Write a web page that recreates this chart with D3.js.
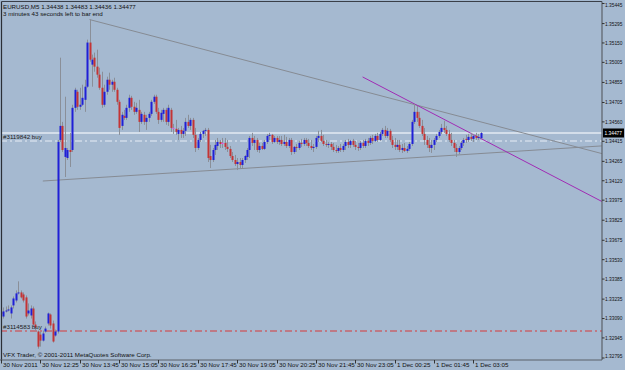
<!DOCTYPE html>
<html><head><meta charset="utf-8">
<script src="https://cdn.jsdelivr.net/npm/d3@7"></script>
<style>
html,body{margin:0;padding:0;background:#a5b9d0;}
svg{display:block;}
text{font-family:"Liberation Sans",Arial,sans-serif;}
</style></head><body>
<svg id="chart" width="625" height="370"></svg>
<script>
// ---------------- DATA ----------------
const symbolLabel = "EURUSD,M5";
const headerQuote = ["1.34438", "1.34483", "1.34436", "1.34477"];
const timerText = "3 minutes 43 seconds left to bar end";
const copyrightText = "VFX Trader, \u00a9 2001-2011 MetaQuotes Software Corp.";

const opens = [
1.33135,1.33105,1.33143,1.33150,1.33128,1.33188,1.33225,1.33278,1.33285,1.33270,
1.33248,1.33128,1.33113,1.33165,1.33045,1.32993,1.32970,1.32925,1.32993,1.33053,
1.33120,1.33053,1.32963,1.32993,1.34425,1.34530,1.34298,1.34290,1.34350,1.34350,
1.34665,1.34785,1.34673,1.34688,1.34725,1.34823,1.35153,1.34988,1.35040,1.34973,
1.34913,1.34815,1.34688,1.34785,1.34875,1.34838,1.34860,1.34800,1.34710,1.34530,
1.34605,1.34590,1.34665,1.34740,1.34673,1.34635,1.34650,1.34560,1.34613,1.34560,
1.34590,1.34620,1.34710,1.34748,1.34635,1.34575,1.34620,1.34650,1.34560,1.34650,
1.34515,1.34508,1.34470,1.34500,1.34470,1.34493,1.34560,1.34530,1.34575,1.34463,
1.34365,1.34425,1.34470,1.34493,1.34500,1.34305,1.34275,1.34350,1.34380,1.34410,
1.34395,1.34403,1.34373,1.34358,1.34305,1.34275,1.34245,1.34260,1.34238,1.34275,
1.34298,1.34350,1.34440,1.34403,1.34425,1.34350,1.34380,1.34358,1.34410,1.34455,
1.34463,1.34410,1.34440,1.34410,1.34425,1.34395,1.34410,1.34380,1.34425,1.34335,
1.34373,1.34365,1.34403,1.34395,1.34425,1.34403,1.34380,1.34365,1.34373,1.34440,
1.34455,1.34418,1.34395,1.34388,1.34395,1.34373,1.34350,1.34343,1.34365,1.34350,
1.34380,1.34410,1.34388,1.34418,1.34388,1.34373,1.34365,1.34403,1.34380,1.34418,
1.34403,1.34440,1.34418,1.34455,1.34425,1.34470,1.34500,1.34455,1.34493,1.34425,
1.34388,1.34373,1.34388,1.34350,1.34365,1.34343,1.34358,1.34395,1.34560,1.34635,
1.34590,1.34530,1.34470,1.34425,1.34388,1.34365,1.34388,1.34425,1.34455,1.34485,
1.34515,1.34500,1.34470,1.34425,1.34403,1.34365,1.34335,1.34365,1.34403,1.34433,
1.34425,1.34448,1.34433,1.34455,1.34440,1.34438];

const highs = [
1.33173,1.33173,1.33180,1.33188,1.33188,1.33255,1.33300,1.33368,1.33300,1.33285,
1.33263,1.33203,1.33188,1.33180,1.33068,1.33000,1.32993,1.33000,1.33030,1.33135,
1.33128,1.33075,1.33008,1.34425,1.35040,1.34560,1.34748,1.34365,1.34478,1.34688,
1.34815,1.34800,1.34815,1.34838,1.34875,1.35175,1.35325,1.35063,1.35078,1.35100,
1.34965,1.34935,1.34838,1.34898,1.34928,1.34875,1.34890,1.34815,1.34725,1.34635,
1.34650,1.34688,1.34763,1.34755,1.34710,1.34703,1.34725,1.34635,1.34635,1.34613,
1.34635,1.34725,1.34763,1.34763,1.34665,1.34650,1.34665,1.34665,1.34688,1.34665,
1.34545,1.34575,1.34515,1.34530,1.34515,1.34590,1.34613,1.34590,1.34590,1.34515,
1.34440,1.34485,1.34500,1.34515,1.34515,1.34388,1.34365,1.34425,1.34440,1.34425,
1.34440,1.34440,1.34425,1.34380,1.34335,1.34313,1.34290,1.34290,1.34290,1.34313,
1.34365,1.34455,1.34478,1.34455,1.34440,1.34403,1.34403,1.34425,1.34470,1.34478,
1.34470,1.34455,1.34455,1.34455,1.34455,1.34463,1.34448,1.34440,1.34440,1.34380,
1.34395,1.34418,1.34433,1.34440,1.34440,1.34433,1.34425,1.34395,1.34455,1.34493,
1.34500,1.34463,1.34425,1.34410,1.34410,1.34403,1.34388,1.34380,1.34395,1.34395,
1.34425,1.34433,1.34425,1.34433,1.34418,1.34403,1.34418,1.34425,1.34433,1.34440,
1.34455,1.34463,1.34470,1.34478,1.34485,1.34515,1.34530,1.34515,1.34508,1.34455,
1.34440,1.34425,1.34425,1.34395,1.34403,1.34380,1.34410,1.34575,1.34695,1.34680,
1.34635,1.34575,1.34515,1.34455,1.34440,1.34425,1.34440,1.34470,1.34500,1.34545,
1.34568,1.34530,1.34500,1.34478,1.34425,1.34395,1.34380,1.34418,1.34440,1.34463,
1.34470,1.34478,1.34470,1.34478,1.34470,1.34483];

const lows = [
1.33098,1.33090,1.33135,1.33143,1.33090,1.33165,1.33210,1.33270,1.33240,1.33210,
1.33090,1.33113,1.33090,1.33030,1.33000,1.32865,1.32880,1.32918,1.32985,1.33038,
1.33015,1.32910,1.32955,1.32978,1.34410,1.34335,1.34148,1.34275,1.34223,1.34335,
1.34635,1.34650,1.34650,1.34680,1.34635,1.34815,1.35010,1.34823,1.34935,1.34890,
1.34800,1.34665,1.34673,1.34763,1.34800,1.34785,1.34785,1.34688,1.34463,1.34500,
1.34575,1.34575,1.34635,1.34650,1.34613,1.34620,1.34485,1.34545,1.34538,1.34500,
1.34560,1.34605,1.34695,1.34620,1.34545,1.34560,1.34560,1.34538,1.34530,1.34485,
1.34470,1.34463,1.34425,1.34440,1.34440,1.34455,1.34515,1.34500,1.34440,1.34335,
1.34350,1.34410,1.34440,1.34455,1.34260,1.34215,1.34260,1.34313,1.34350,1.34365,
1.34365,1.34350,1.34335,1.34290,1.34260,1.34230,1.34200,1.34215,1.34215,1.34253,
1.34275,1.34290,1.34380,1.34350,1.34335,1.34328,1.34350,1.34350,1.34395,1.34425,
1.34395,1.34403,1.34395,1.34388,1.34380,1.34380,1.34365,1.34365,1.34313,1.34320,
1.34335,1.34350,1.34373,1.34380,1.34380,1.34365,1.34350,1.34335,1.34358,1.34410,
1.34410,1.34380,1.34373,1.34365,1.34350,1.34335,1.34328,1.34328,1.34335,1.34335,
1.34350,1.34365,1.34365,1.34373,1.34350,1.34343,1.34350,1.34365,1.34365,1.34380,
1.34388,1.34395,1.34410,1.34410,1.34418,1.34455,1.34440,1.34440,1.34410,1.34365,
1.34350,1.34350,1.34335,1.34328,1.34335,1.34328,1.34343,1.34380,1.34545,1.34560,
1.34515,1.34455,1.34388,1.34365,1.34335,1.34328,1.34350,1.34410,1.34440,1.34470,
1.34478,1.34455,1.34410,1.34380,1.34335,1.34298,1.34320,1.34350,1.34380,1.34403,
1.34410,1.34418,1.34410,1.34425,1.34425,1.34436];

const closes = [
1.33128,1.33143,1.33150,1.33158,1.33173,1.33240,1.33278,1.33285,1.33248,1.33225,
1.33105,1.33150,1.33165,1.33045,1.33023,1.32880,1.32925,1.32978,1.33015,1.33128,
1.33038,1.32918,1.32993,1.34410,1.34530,1.34350,1.34365,1.34350,1.34335,1.34665,
1.34800,1.34673,1.34688,1.34740,1.34823,1.35153,1.35025,1.35025,1.34973,1.34913,
1.34815,1.34688,1.34785,1.34875,1.34838,1.34860,1.34800,1.34710,1.34515,1.34613,
1.34590,1.34665,1.34740,1.34673,1.34635,1.34665,1.34560,1.34620,1.34560,1.34590,
1.34620,1.34710,1.34748,1.34635,1.34575,1.34628,1.34650,1.34560,1.34665,1.34515,
1.34508,1.34485,1.34500,1.34470,1.34493,1.34560,1.34530,1.34575,1.34463,1.34365,
1.34425,1.34470,1.34493,1.34500,1.34290,1.34275,1.34350,1.34388,1.34410,1.34395,
1.34403,1.34373,1.34358,1.34305,1.34275,1.34245,1.34260,1.34238,1.34275,1.34305,
1.34350,1.34440,1.34403,1.34425,1.34350,1.34380,1.34358,1.34410,1.34455,1.34463,
1.34410,1.34440,1.34410,1.34425,1.34395,1.34410,1.34380,1.34425,1.34335,1.34373,
1.34365,1.34403,1.34395,1.34425,1.34403,1.34380,1.34365,1.34373,1.34440,1.34455,
1.34418,1.34395,1.34388,1.34395,1.34373,1.34350,1.34343,1.34365,1.34350,1.34380,
1.34410,1.34388,1.34418,1.34388,1.34373,1.34365,1.34403,1.34380,1.34418,1.34403,
1.34440,1.34418,1.34455,1.34425,1.34470,1.34500,1.34455,1.34493,1.34425,1.34388,
1.34373,1.34388,1.34350,1.34365,1.34343,1.34358,1.34395,1.34560,1.34635,1.34590,
1.34530,1.34470,1.34425,1.34388,1.34365,1.34388,1.34425,1.34455,1.34485,1.34515,
1.34500,1.34470,1.34425,1.34403,1.34365,1.34335,1.34365,1.34403,1.34425,1.34425,
1.34448,1.34433,1.34455,1.34440,1.34448,1.34477];

const markedBars = [70, 90];

const priceTicks = [1.35445,1.35295,1.35150,1.35005,1.34855,1.34705,1.34560,1.34415,1.34265,
  1.34120,1.33975,1.33825,1.33675,1.33530,1.33385,1.33235,1.33090,1.32945,1.32795];

const timeTickBars = [0,16,32,48,64,80,96,112,128,144,160,176,192];
const timeTickLabels = ["30 Nov 2011","30 Nov 12:25","30 Nov 13:45","30 Nov 15:05","30 Nov 16:25",
  "30 Nov 17:45","30 Nov 19:05","30 Nov 20:25","30 Nov 21:45","30 Nov 23:05",
  "1 Dec 00:25","1 Dec 01:45","1 Dec 03:05"];

const bidPrice = 1.34477;
const orderLabels = ["#3119842 buy", "#3114583 buy"];
const orderPrices = [1.34417, 1.32997];

// trend lines: two anchor points (bar index, price), extended to the right edge
const trendBarsA = [36, 17, 147];
const trendPricesA = [1.35325, 1.34118, 1.34896];
const trendBarsB = [168, 185, 168];
const trendPricesB = [1.34690, 1.34312, 1.34695];

// ---------------- DRAWING ----------------
const W = 625, H = 370;
const plotL = 1.5, plotR = 602, plotT = 1.5, plotB = 360;
const svg = d3.select("#chart");

svg.append("rect").attr("width", W).attr("height", H).attr("fill", "#a5b9d0");

const x = d3.scaleLinear().domain([0, 244]).range([1, 601.2]);
const y = d3.scaleLinear().domain([1.32795, 1.35445]).range([358, 3.5]);

svg.append("clipPath").attr("id", "plotclip")
  .append("rect").attr("x", plotL).attr("y", plotT).attr("width", plotR - plotL).attr("height", plotB - plotT);

const plot = svg.append("g").attr("clip-path", "url(#plotclip)");

// bid line
plot.append("line").attr("x1", 0).attr("x2", plotR).attr("y1", y(bidPrice)).attr("y2", y(bidPrice))
  .attr("stroke", "#e4ebf3").attr("stroke-width", 1.5);

// order lines
const orderColors = ["#e8eef5", "#d83a3a"];
orderPrices.forEach((p, k) => {
  plot.append("line").attr("x1", 0).attr("x2", plotR).attr("y1", y(p)).attr("y2", y(p))
    .attr("stroke", orderColors[k]).attr("stroke-width", 1.2)
    .attr("stroke-dasharray", "7,3,2,3");
  svg.append("text").attr("x", 3).attr("y", y(p) - 2).attr("font-size", 6.2).attr("fill", "#1a1a1a")
    .text(orderLabels[k]);
});

// trend lines (rays)
const trendColors = ["#868b93", "#868b93", "#a02cb4"];
trendBarsA.forEach((b, k) => {
  const x1 = x(b), y1 = y(trendPricesA[k]);
  const x2 = x(trendBarsB[k]), y2 = y(trendPricesB[k]);
  const slope = (y2 - y1) / (x2 - x1);
  const xe = plotR;
  plot.append("line").attr("x1", x1).attr("y1", y1).attr("x2", xe).attr("y2", y1 + slope * (xe - x1))
    .attr("stroke", trendColors[k]).attr("stroke-width", 1);
});

// candles
const idx = d3.range(closes.length);
const wickColor = "#8a8f98";
plot.append("g").selectAll("line").data(idx).join("line")
  .attr("x1", i => Math.round(x(i)) + 0.5).attr("x2", i => Math.round(x(i)) + 0.5)
  .attr("y1", i => y(highs[i])).attr("y2", i => y(lows[i]))
  .attr("stroke", wickColor).attr("stroke-width", 1);

function bodyColor(i) {
  if (markedBars.includes(i)) return "#ee44ee";
  if (closes[i] > opens[i]) return "#1f1fd6";
  if (closes[i] < opens[i]) return "#c43434";
  return wickColor;
}
plot.append("g").selectAll("rect").data(idx).join("rect")
  .attr("x", i => Math.round(x(i)) - 0.5)
  .attr("width", 2)
  .attr("y", i => Math.min(y(opens[i]), y(closes[i])))
  .attr("height", i => Math.max(1, Math.abs(y(opens[i]) - y(closes[i]))))
  .attr("fill", i => bodyColor(i));

// frame
svg.append("line").attr("x1", plotL).attr("x2", plotL).attr("y1", plotT).attr("y2", plotB).attr("stroke", "#2b2f36").attr("stroke-width", 1.2);
svg.append("line").attr("x1", plotL).attr("x2", plotR).attr("y1", plotT).attr("y2", plotT).attr("stroke", "#3a3f48").attr("stroke-width", 1);
svg.append("line").attr("x1", plotR).attr("x2", plotR).attr("y1", plotT).attr("y2", plotB).attr("stroke", "#5a6068").attr("stroke-width", 1.2);
svg.append("line").attr("x1", 0).attr("x2", plotR).attr("y1", plotB).attr("y2", plotB).attr("stroke", "#5a6068").attr("stroke-width", 1);

// price axis
const pAxis = svg.append("g");
priceTicks.forEach(v => {
  const ty = Math.max(5, Math.min(356, y(v)));
  pAxis.append("line").attr("x1", plotR).attr("x2", plotR + 2.5).attr("y1", y(v)).attr("y2", y(v)).attr("stroke", "#333");
  pAxis.append("text").attr("x", plotR + 3).attr("y", ty).attr("dy", "0.35em")
    .attr("font-size", 5.6).attr("textLength", 17.5).attr("lengthAdjust", "spacingAndGlyphs")
    .attr("fill", "#111").text(v.toFixed(5));
});
// bid label box
pAxis.append("rect").attr("x", plotR + 1).attr("y", y(bidPrice) - 4.5).attr("width", 21).attr("height", 9).attr("fill", "#000");
pAxis.append("text").attr("x", plotR + 2.5).attr("y", y(bidPrice)).attr("dy", "0.35em")
  .attr("font-size", 5.6).attr("textLength", 17.5).attr("lengthAdjust", "spacingAndGlyphs")
  .attr("fill", "#fff").text(bidPrice.toFixed(5));

// time axis
const tAxis = svg.append("g");
timeTickBars.forEach((b, k) => {
  const tx = Math.round(x(b)) + 0.5;
  tAxis.append("line").attr("x1", tx).attr("x2", tx).attr("y1", plotB).attr("y2", plotB + 3.5).attr("stroke", "#333");
  tAxis.append("text").attr("x", tx + 1.5).attr("y", 367).attr("font-size", 6.2).attr("fill", "#111")
    .text(timeTickLabels[k]);
});

// header texts
svg.append("text").attr("x", 3).attr("y", 8.5).attr("font-size", 6.2).attr("fill", "#111")
  .text(symbolLabel + "  " + headerQuote.join(" "));
svg.append("text").attr("x", 3).attr("y", 15.5).attr("font-size", 6.2).attr("fill", "#111")
  .text(timerText);
svg.append("text").attr("x", 3).attr("y", 356.5).attr("font-size", 6.2).attr("fill", "#111")
  .text(copyrightText);
</script>
</body></html>
